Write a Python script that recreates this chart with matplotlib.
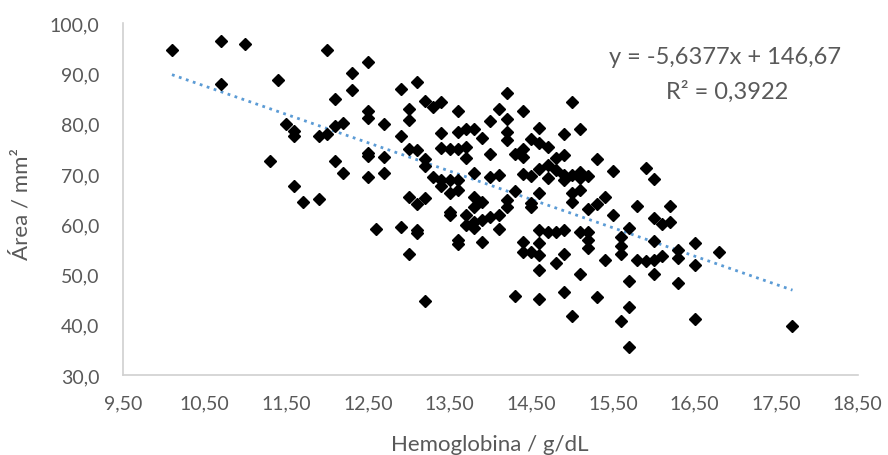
import matplotlib
matplotlib.use('Agg')
import matplotlib.pyplot as plt
import numpy as np
from matplotlib.ticker import FuncFormatter

# hemoglobin (g/dL) vs area (mm2)
hemoglobina = [
    10.1, 10.7, 11.0, 12.0, 12.5, 12.3, 10.7, 11.4, 12.3, 12.1,
    12.5, 12.5, 12.7, 11.5, 11.6, 11.6, 11.9, 12.0, 12.1, 12.2,
    12.5, 12.5, 12.7, 12.7, 12.5, 11.3, 12.1, 12.2, 11.6, 11.7,
    11.9, 12.6, 12.9, 13.1, 14.2, 15.0, 13.2, 13.3, 13.4, 13.0,
    13.0, 13.6, 14.1, 14.4, 14.2, 14.0, 15.1, 12.9, 13.4, 13.6,
    13.7, 13.8, 14.2, 14.2, 13.9, 14.6, 14.9, 14.5, 14.6, 14.7,
    13.4, 13.5, 13.6, 13.7, 13.0, 13.1, 13.2, 13.2, 13.7, 14.0,
    14.3, 14.4, 14.4, 14.8, 14.9, 15.3, 15.5, 13.3, 13.4, 13.5,
    13.6, 13.4, 13.5, 13.6, 13.8, 14.0, 14.1, 14.4, 14.5, 14.6,
    14.7, 14.8, 14.7, 14.9, 14.9, 15.0, 15.1, 15.1, 15.2, 15.0,
    15.1, 15.0, 15.2, 15.3, 15.4, 15.5, 14.3, 14.6, 13.0, 13.1,
    13.2, 13.5, 13.5, 13.8, 13.9, 13.8, 14.2, 14.2, 13.7, 13.8,
    13.7, 13.9, 14.0, 14.1, 14.5, 14.5, 12.9, 13.1, 13.1, 13.8,
    14.1, 14.6, 14.7, 14.8, 14.9, 15.1, 15.2, 13.0, 13.6, 13.6,
    13.9, 13.2, 14.4, 14.4, 14.5, 14.6, 14.6, 15.2, 15.2, 14.9,
    14.8, 14.6, 15.1, 15.4, 14.3, 14.6, 14.9, 15.3, 15.0, 15.9,
    16.0, 15.8, 16.2, 16.0, 16.1, 16.2, 15.7, 15.6, 15.6, 15.6,
    16.0, 16.3, 16.3, 16.5, 16.8, 16.5, 15.8, 15.9, 16.0, 16.1,
    15.7, 16.0, 16.3, 15.7, 15.6, 16.5, 15.7, 17.7,
]
area = [
    94.7, 96.5, 95.8, 94.7, 92.2, 90.1, 87.8, 88.6, 86.7, 84.8,
    82.5, 81.2, 80.0, 80.0, 78.5, 77.5, 77.6, 77.9, 79.5, 80.2,
    74.2, 73.5, 73.4, 70.2, 69.3, 72.5, 72.5, 70.1, 67.6, 64.5,
    65.1, 59.0, 86.8, 88.3, 86.0, 84.2, 84.5, 83.3, 84.3, 83.0,
    80.7, 82.6, 83.0, 82.5, 81.0, 80.5, 79.0, 77.6, 78.2, 78.4,
    79.0, 79.0, 78.4, 76.7, 77.2, 79.1, 78.0, 77.0, 76.2, 75.4,
    75.2, 75.0, 75.0, 75.4, 75.0, 74.8, 72.9, 71.6, 73.2, 74.0,
    74.0, 75.0, 73.4, 73.1, 73.7, 73.0, 70.5, 69.3, 68.7, 68.8,
    68.8, 67.6, 66.1, 66.8, 70.2, 69.4, 69.8, 69.9, 69.6, 70.9,
    71.7, 70.7, 69.1, 69.7, 68.8, 69.7, 70.4, 69.1, 69.6, 66.1,
    66.8, 64.5, 63.1, 64.1, 65.5, 61.8, 66.6, 66.1, 65.5, 64.1,
    65.3, 62.5, 61.8, 65.5, 64.5, 63.5, 64.9, 63.5, 61.8, 60.5,
    59.8, 60.8, 61.5, 61.8, 64.3, 63.5, 59.4, 58.8, 58.2, 59.2,
    59.1, 58.9, 58.5, 58.5, 58.9, 58.5, 58.4, 54.0, 56.8, 56.0,
    56.4, 44.7, 56.5, 54.5, 54.5, 56.2, 53.9, 56.8, 55.3, 54.1,
    52.2, 50.9, 50.1, 52.9, 45.8, 45.1, 46.6, 45.5, 41.8, 71.2,
    68.9, 63.7, 63.7, 61.3, 60.1, 60.5, 59.2, 57.5, 55.7, 54.0,
    56.7, 54.9, 53.2, 56.2, 54.4, 51.9, 52.9, 52.6, 52.9, 53.7,
    48.6, 50.0, 48.3, 43.6, 40.7, 41.1, 35.5, 39.8,
]

# linear trendline as printed on the chart
slope = -5.6377
intercept = 146.67
eq_text = 'y = -5,6377x + 146,67'
r2_text = 'R² = 0,3922'

plt.rcParams['font.family'] = ['Lato', 'DejaVu Sans']

fig = plt.figure(figsize=(8.88, 4.56), dpi=100)
ax = fig.add_axes([0.1385, 0.1754, 0.8275, 0.7719])

ax.plot(hemoglobina, area, 'D', color='black', markersize=5.8, zorder=3)

x_line = np.array([min(hemoglobina), max(hemoglobina)])
ax.plot(x_line, slope * x_line + intercept, linestyle=':', color='#5B9BD5',
        linewidth=2, zorder=2)

ax.set_xlim(9.5, 18.5)
ax.set_ylim(30, 100)
ax.set_xticks(np.arange(9.5, 18.51, 1.0))
ax.set_yticks(np.arange(30, 100.1, 10))
ax.xaxis.set_major_formatter(FuncFormatter(lambda v, p: '{:.2f}'.format(v).replace('.', ',')))
ax.yaxis.set_major_formatter(FuncFormatter(lambda v, p: '{:.1f}'.format(v).replace('.', ',')))
ax.tick_params(length=0, labelsize=14, colors='#595959')
ax.tick_params(axis='x', pad=14)
ax.tick_params(axis='y', pad=17)

for side in ['top', 'right']:
    ax.spines[side].set_visible(False)
for side in ['left', 'bottom']:
    ax.spines[side].set_color('#d0d0d0')
    ax.spines[side].set_linewidth(1.2)

fig.text(490 / 888, 1 - 445 / 456, 'Hemoglobina / g/dL', ha='center', va='center',
         fontsize=16, color='#595959')
fig.text(21 / 888, 1 - 204 / 456, 'Área / mm²', ha='center', va='center',
         rotation=90, fontsize=16, color='#595959')

fig.text(725 / 888, 1 - 57 / 456, eq_text, ha='center', va='center',
         fontsize=17, color='#595959')
fig.text(727 / 888, 1 - 92 / 456, r2_text, ha='center', va='center',
         fontsize=17, color='#595959')

fig.savefig('out.png', dpi=100)
